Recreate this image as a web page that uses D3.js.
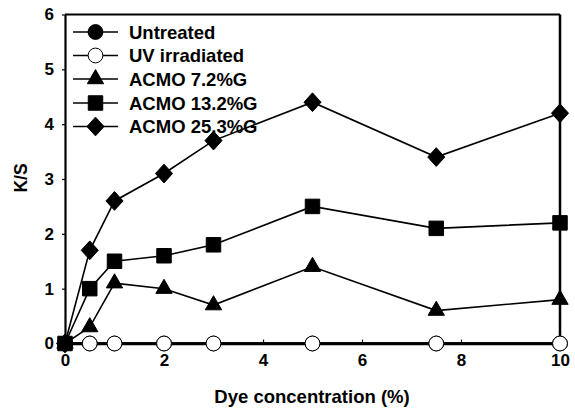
<!DOCTYPE html>
<html>
<head>
<meta charset="utf-8">
<script src="https://cdn.jsdelivr.net/npm/d3@7/dist/d3.min.js"></script>
<style>
  html, body { margin: 0; padding: 0; background: #fff; }
  svg text { font-family: "Liberation Sans", Arial, sans-serif; font-weight: 700; fill: #000; }
</style>
</head>
<body>
<svg id="chart" width="575" height="410"></svg>
<script>
// Dye concentration (%) at each measurement
const concentrations = [0, 0.5, 1, 2, 3, 5, 7.5, 10];

// K/S values for each fabric treatment
const untreated    = [0, 0, 0, 0, 0, 0, 0, 0];
const uvIrradiated = [0, 0, 0, 0, 0, 0, 0, 0];
const acmo72       = [0, 0.3, 1.1, 1.0, 0.7, 1.4, 0.6, 0.8];
const acmo132      = [0, 1.0, 1.5, 1.6, 1.8, 2.5, 2.1, 2.2];
const acmo253      = [0, 1.7, 2.6, 3.1, 3.7, 4.4, 3.4, 4.2];

const seriesNames = ["Untreated", "UV irradiated", "ACMO 7.2%G", "ACMO 13.2%G", "ACMO 25.3%G"];
const xTicks = [0, 2, 4, 6, 8, 10];
const yTicks = [0, 1, 2, 3, 4, 5, 6];

const series = [
  { name: seriesNames[0], values: untreated,    shape: "circle",   fill: "#000" },
  { name: seriesNames[1], values: uvIrradiated, shape: "circle",   fill: "#fff" },
  { name: seriesNames[2], values: acmo72,       shape: "triangle", fill: "#000" },
  { name: seriesNames[3], values: acmo132,      shape: "square",   fill: "#000" },
  { name: seriesNames[4], values: acmo253,      shape: "diamond",  fill: "#000" }
];

const svg = d3.select("#chart");
const margin = { left: 65, right: 15, top: 14.5, bottom: 66.5 };
const W = 575, H = 410;

const x = d3.scaleLinear().domain([0, 10]).range([margin.left, W - margin.right]);
const y = d3.scaleLinear().domain([0, 6]).range([H - margin.bottom, margin.top]);

// A square diamond, slightly taller than wide
const wideDiamond = {
  draw(ctx, size) {
    const hw = Math.sqrt(size) * 0.62, hh = Math.sqrt(size) * 0.68;
    ctx.moveTo(0, -hh); ctx.lineTo(hw, 0); ctx.lineTo(0, hh); ctx.lineTo(-hw, 0); ctx.closePath();
  }
};

const symbolFor = {
  circle:   d3.symbol().type(d3.symbolCircle).size(Math.PI * 7.4 * 7.4),
  triangle: d3.symbol().type(d3.symbolTriangle).size(115),
  square:   d3.symbol().type(d3.symbolSquare).size(210),
  diamond:  d3.symbol().type(wideDiamond).size(190)
};

// Frame: top and right border lines
svg.append("line")
  .attr("x1", x(0)).attr("x2", x(10)).attr("y1", y(6)).attr("y2", y(6))
  .attr("stroke", "#000").attr("stroke-width", 2);
svg.append("line")
  .attr("x1", x(10)).attr("x2", x(10)).attr("y1", y(6)).attr("y2", y(0))
  .attr("stroke", "#000").attr("stroke-width", 2.5);

// Left axis with outward ticks
const yAxis = svg.append("g")
  .attr("transform", `translate(${x(0)},0)`)
  .call(d3.axisLeft(y).tickValues(yTicks).tickSizeInner(3).tickSizeOuter(0).tickPadding(8).tickFormat(d3.format("d")));
yAxis.attr("font-family", null).attr("font-size", null);
yAxis.select(".domain").attr("stroke-width", 2.2);
yAxis.selectAll(".tick line").attr("stroke-width", 1.2);
yAxis.selectAll(".tick text").style("font-size", "17px");

// Bottom axis with inward ticks
const xAxis = svg.append("g")
  .attr("transform", `translate(0,${y(0)})`)
  .call(d3.axisBottom(x).tickValues(xTicks).tickSizeInner(-4).tickSizeOuter(0).tickPadding(6).tickFormat(d3.format("d")));
xAxis.attr("font-family", null).attr("font-size", null);
xAxis.select(".domain").attr("stroke-width", 2.5);
xAxis.selectAll(".tick line").attr("stroke-width", 1.2);
xAxis.selectAll(".tick text").style("font-size", "17px").attr("dy", "0.95em");

// Axis titles
svg.append("text")
  .attr("transform", `translate(27,${y(3) - 1}) rotate(-90)`)
  .attr("text-anchor", "middle")
  .style("font-size", "17.5px")
  .text("K/S");
svg.append("text")
  .attr("x", 312)
  .attr("y", 403)
  .attr("text-anchor", "middle")
  .style("font-size", "18.5px")
  .text("Dye concentration (%)");

// Lines and markers
const line = d3.line()
  .x((d, i) => x(concentrations[i]))
  .y(d => y(d));

const plot = svg.append("g");
series.forEach(s => {
  plot.append("path")
    .datum(s.values)
    .attr("d", line)
    .attr("fill", "none")
    .attr("stroke", "#000")
    .attr("stroke-width", s.shape === "circle" ? 2.5 : 1.6);
});
series.forEach(s => {
  plot.selectAll(null)
    .data(s.values)
    .join("path")
    .attr("transform", (d, i) => `translate(${x(concentrations[i])},${y(d)})`)
    .attr("d", symbolFor[s.shape]())
    .attr("fill", s.fill)
    .attr("stroke", "#000")
    .attr("stroke-width", 1);
});

// Legend
const legend = svg.append("g");
const legendRows = [32, 55.5, 79, 103, 126.5];
series.forEach((s, i) => {
  const row = legend.append("g").attr("transform", `translate(0,${legendRows[i]})`);
  row.append("line")
    .attr("x1", 73).attr("x2", 118).attr("y1", 0).attr("y2", 0)
    .attr("stroke", "#000").attr("stroke-width", 1.6);
  row.append("path")
    .attr("transform", "translate(95.5,0)")
    .attr("d", symbolFor[s.shape]())
    .attr("fill", s.fill)
    .attr("stroke", "#000")
    .attr("stroke-width", 1);
  row.append("text")
    .attr("x", 129)
    .attr("y", 0)
    .attr("dy", "0.36em")
    .style("font-size", "18.5px")
    .text(s.name);
});
</script>
</body>
</html>
